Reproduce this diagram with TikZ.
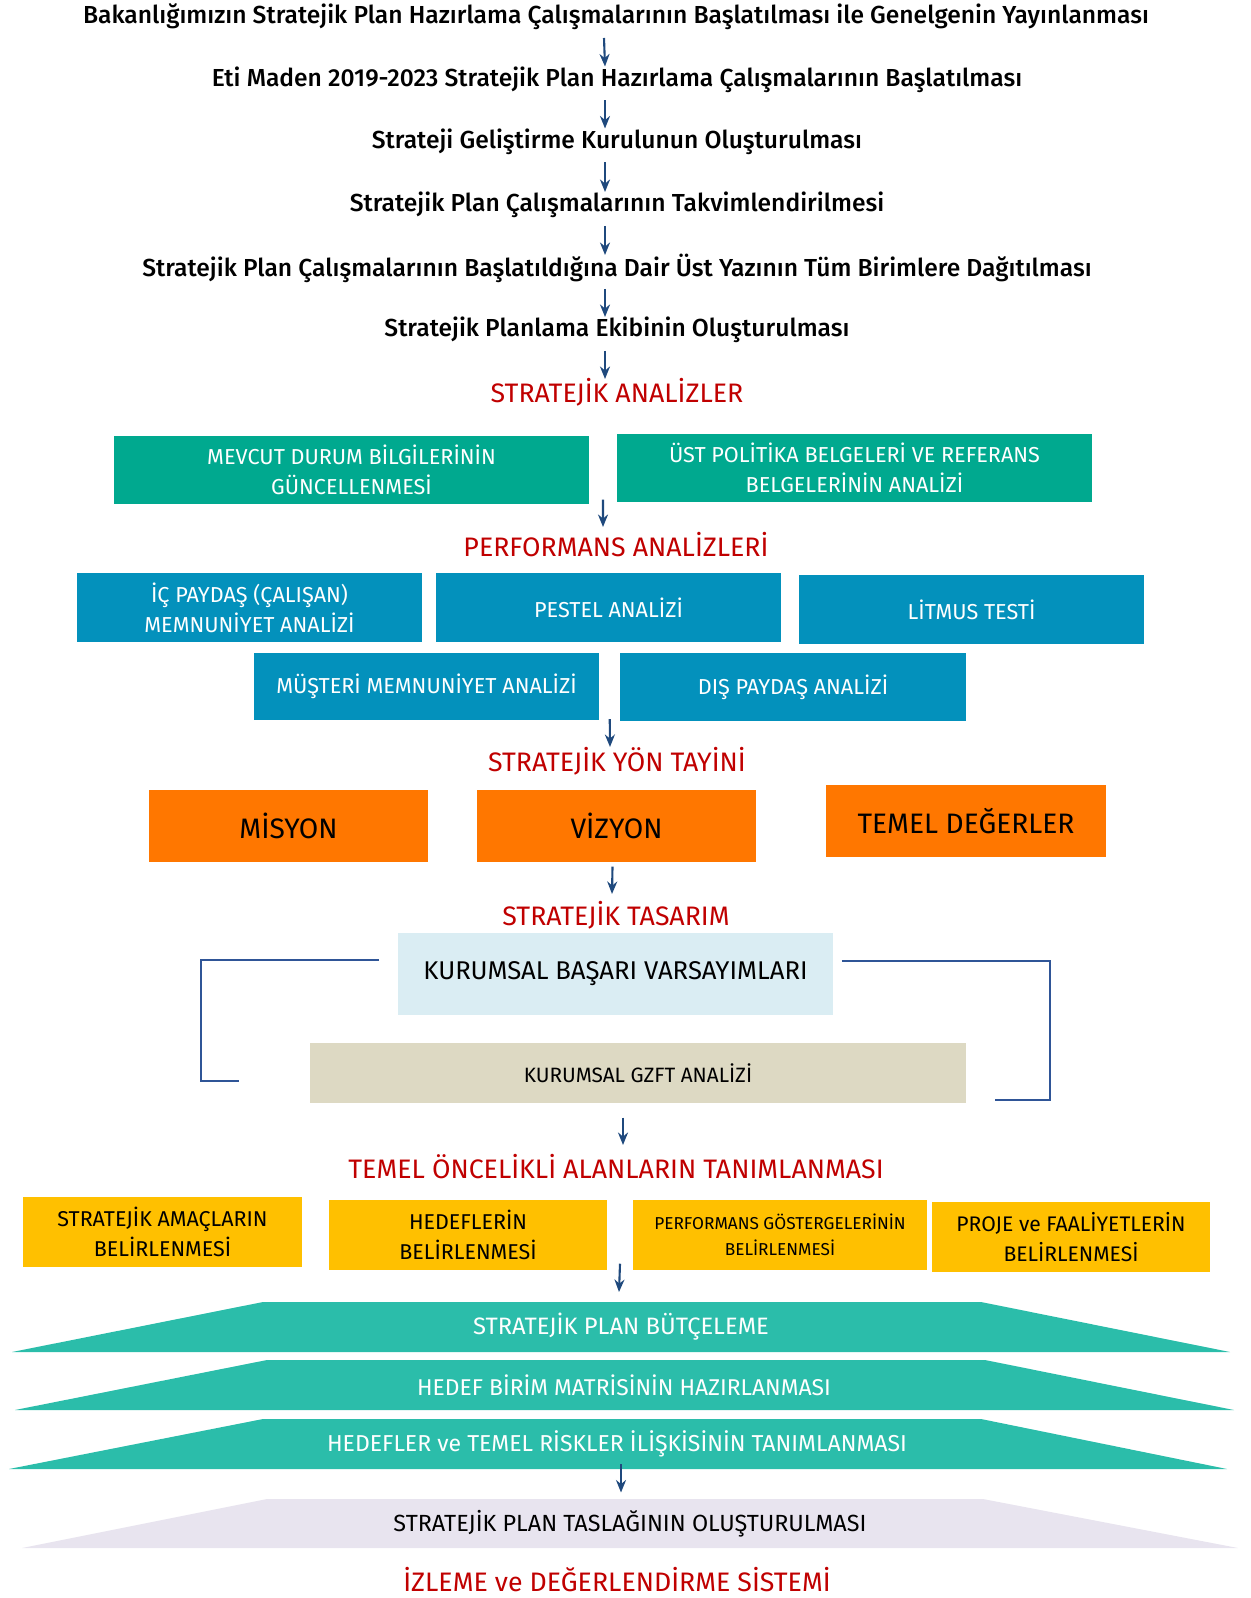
\documentclass[tikz,border=0pt]{standalone}
\usepackage{fontspec}
\setmainfont{Fira Sans}
\newfontfamily\orta{Fira Sans}[UprightFont={* Medium}]
\usetikzlibrary{arrows.meta, positioning, calc}

\definecolor{okmavi}{RGB}{31,73,125}
\definecolor{baslik}{RGB}{192,0,0}
\definecolor{yesil}{RGB}{0,169,143}
\definecolor{mavi}{RGB}{3,145,188}
\definecolor{turuncu}{RGB}{255,119,0}
\definecolor{acikmavi}{RGB}{218,237,243}
\definecolor{bej}{RGB}{221,217,195}
\definecolor{sari}{RGB}{255,192,0}
\definecolor{turkuaz}{RGB}{43,189,170}
\definecolor{lila}{RGB}{232,228,239}
\definecolor{cizgi}{RGB}{47,85,151}

\begin{document}
\begin{tikzpicture}[x=0.01cm, y=-0.01cm, >=Stealth]
      \tikzstyle{adim} = [inner sep=0, font=\orta\fontsize{7}{8}\selectfont]
      \tikzstyle{kirmizi} = [inner sep=0, text=baslik, font=\fontsize{7.6}{9}\selectfont]
      \tikzstyle{kutu} = [rectangle, inner sep=0, align=center, font=\fontsize{6.15}{8.6}\selectfont]
      \tikzstyle{yesilKutu} = [kutu, fill=yesil, text=white, minimum width=4.75cm, minimum height=0.68cm]
      \tikzstyle{maviKutu} = [kutu, fill=mavi, text=white, minimum width=3.45cm, minimum height=0.68cm]
      \tikzstyle{turuncuKutu} = [kutu, fill=turuncu, minimum width=2.79cm, minimum height=0.72cm, font=\fontsize{8}{9}\selectfont]
      \tikzstyle{sariKutu} = [kutu, fill=sari, minimum width=2.78cm, minimum height=0.7cm, font=\fontsize{6.1}{8.4}\selectfont]
      \tikzstyle{katman} = [inner sep=0, text=white, font=\fontsize{6.75}{8}\selectfont]
      \tikzstyle{ok} = [->, draw=okmavi, line width=0.6pt, -{Stealth[length=1.25mm, width=1mm]}]
      \tikzstyle{myLine} = [draw=cizgi, line width=0.6pt]

      \useasboundingbox (0,0) rectangle (1250,1598);

      % Adımlar
      \node at (616,17) [adim] (t1) {Bakanlığımızın Stratejik Plan Hazırlama Çalışmalarının Başlatılması ile Genelgenin Yayınlanması};
      \node at (617,79.5) [adim] (t2) {Eti Maden 2019-2023 Stratejik Plan Hazırlama Çalışmalarının Başlatılması};
      \node at (617,141.5) [adim] (t3) {Strateji Geliştirme Kurulunun Oluşturulması};
      \node at (617,205) [adim] (t4) {Stratejik Plan Çalışmalarının Takvimlendirilmesi};
      \node at (617,268) [adim] (t5) {Stratejik Plan Çalışmalarının Başlatıldığına Dair Üst Yazının Tüm Birimlere Dağıtılması};
      \node at (617,330) [adim] (t6) {Stratejik Planlama Ekibinin Oluşturulması};
      \node at (617,392) [kirmizi] (analiz) {STRATEJİK ANALİZLER};

      \foreach \a/\b in {t1/t2, t2/t3, t3/t4, t4/t5, t5/t6, t6/analiz}
        \draw [ok] ($(\a)+(-12,21)$) -- ($(\b)+(-12,-13)$);

      % Stratejik analizler
      \node at (351.5,470) [yesilKutu] (mevcut) {MEVCUT DURUM BİLGİLERİNİN\\GÜNCELLENMESİ};
      \node at (854.5,468) [yesilKutu] (ust) {ÜST POLİTİKA BELGELERİ VE REFERANS\\BELGELERİNİN ANALİZİ};
      \node at (616,545) [kirmizi] (perf) {PERFORMANS ANALİZLERİ};
      \draw [ok] ($(mevcut.south east)!0.5!(ust.south west)+(0,-4)$) -- ($(perf)+(-13,-18)$);

      \node at (249.5,607.5) [maviKutu, minimum height=0.69cm] (icpay) {İÇ PAYDAŞ (ÇALIŞAN)\\MEMNUNİYET ANALİZİ};
      \node at (608.5,607.5) [maviKutu, minimum height=0.69cm] (pestel) {PESTEL ANALİZİ};
      \node at (971.5,609.5) [maviKutu, minimum height=0.69cm] (litmus) {LİTMUS TESTİ};
      \node at (426.5,686.5) [maviKutu, minimum height=0.67cm] (musteri) {MÜŞTERİ MEMNUNİYET ANALİZİ};
      \node at (793,687) [maviKutu] (dis) {DIŞ PAYDAŞ ANALİZİ};

      % Stratejik yön
      \node at (617,761) [kirmizi] (yon) {STRATEJİK YÖN TAYİNİ};
      \draw [ok] ($(musteri.south east)!0.5!(dis.south west)+(0,-2)$) -- ($(yon)+(-7,-14)$);
      \node at (288.5,826) [turuncuKutu] (misyon) {MİSYON};
      \node at (616.5,826) [turuncuKutu] (vizyon) {VİZYON};
      \node at (966,821) [turuncuKutu, minimum width=2.8cm] (degerler) {TEMEL DEĞERLER};

      % Stratejik tasarım
      \node at (616,915) [kirmizi] (tasarim) {STRATEJİK TASARIM};
      \draw [ok] ($(vizyon.south)+(-4,4)$) -- ($(tasarim)+(-4,-21)$);
      \node at (615.5,974) [kutu, fill=acikmavi, minimum width=4.35cm, minimum height=0.82cm, font=\fontsize{7.3}{9}\selectfont] (basari) {KURUMSAL BAŞARI VARSAYIMLARI};
      \node at (638,1073) [kutu, fill=bej, minimum width=6.56cm, minimum height=0.6cm, font=\fontsize{5.9}{7}\selectfont] (gzft) {KURUMSAL GZFT ANALİZİ};
      \draw [myLine] ($(basari.west)+(-18,-14)$) -- ++(-178,0) |- ($(gzft.west)+(-70,8)$);
      \draw [myLine] ($(basari.east)+(8,-13)$) -- ++(208,0) |- ($(gzft.east)+(28,27)$);

      \node at (616,1167) [kirmizi] (oncelik) {TEMEL ÖNCELİKLİ ALANLARIN TANIMLANMASI};
      \draw [ok] ($(gzft.south)+(-15,14)$) -- ($(oncelik)+(7,-22)$);

      \node at (162.5,1232) [sariKutu, minimum width=2.79cm] (amac) {STRATEJİK AMAÇLARIN\\BELİRLENMESİ};
      \node at (468,1235) [sariKutu] (hedef) {HEDEFLERİN\\BELİRLENMESİ};
      \node at (780,1235) [sariKutu, minimum width=2.94cm, font=\fontsize{4.9}{7.4}\selectfont] (gosterge) {PERFORMANS GÖSTERGELERİNİN\\BELİRLENMESİ};
      \node at (1071,1237) [sariKutu, font=\fontsize{6}{8.4}\selectfont] (proje) {PROJE ve FAALİYETLERİN\\BELİRLENMESİ};

      % Katmanlar
      \fill [turkuaz] (263,1302) -- (981,1302) -- (1230,1352) -- (12,1352) -- cycle;
      \fill [turkuaz] (267,1360) -- (985,1360) -- (1234,1410) -- (15,1410) -- cycle;
      \fill [turkuaz] (263,1419) -- (981,1419) -- (1227,1469) -- (9,1469) -- cycle;
      \fill [lila] (267,1499) -- (983,1499) -- (1238,1548) -- (22,1548) -- cycle;
      \node at (621,1327) [katman] (butce) {STRATEJİK PLAN BÜTÇELEME};
      \node at (624,1385) [katman, font=\fontsize{6.5}{8}\selectfont] (matris) {HEDEF BİRİM MATRİSİNİN HAZIRLANMASI};
      \node at (617,1444) [katman, font=\fontsize{6.55}{8}\selectfont] (riskler) {HEDEFLER ve TEMEL RİSKLER İLİŞKİSİNİN TANIMLANMASI};
      \node at (630,1523.5) [katman, text=black, font=\fontsize{6.65}{8}\selectfont] (taslak) {STRATEJİK PLAN TASLAĞININ OLUŞTURULMASI};
      \draw [ok] ($(hedef.south east)!0.5!(gosterge.south west)+(0,-7)$) -- ($(butce)+(-2,-35)$);
      \draw [ok] ($(riskler)+(4,20)$) -- ($(taslak)+(-9,-31)$);

      \node at (617,1580) [kirmizi] (izleme) {İZLEME ve DEĞERLENDİRME SİSTEMİ};

    \end{tikzpicture}
\end{document}
